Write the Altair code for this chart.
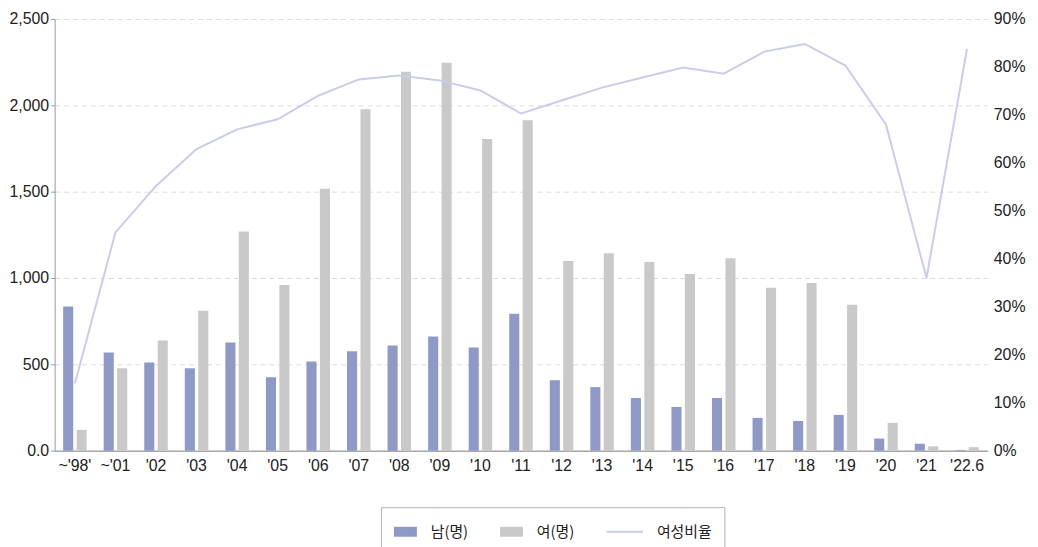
import altair as alt
import pandas as pd

years = ["~'98'", "~'01", "'02", "'03", "'04", "'05", "'06", "'07", "'08", "'09", "'10",
         "'11", "'12", "'13", "'14", "'15", "'16", "'17", "'18", "'19", "'20", "'21", "'22.6"]
male = [835, 569, 511, 477, 626, 425, 517, 575, 609, 661, 598, 793, 408, 368, 305, 253,
        305, 190, 172, 207, 70, 40, 4]
female = [120, 477, 638, 810, 1270, 960, 1517, 1977, 2195, 2247, 1805, 1914, 1098, 1144,
          1092, 1023, 1115, 943, 971, 845, 161, 25, 20]
ratio = [14.0, 45.5, 55.2, 62.9, 67.0, 69.1, 74.0, 77.4, 78.2, 77.2, 75.1, 70.3, 73.0,
         75.7, 77.8, 79.9, 78.6, 83.2, 84.8, 80.3, 68.0, 36.0, 83.8]

series_names = ["남(명)", "여(명)", "여성비율"]
series_colors = ["#8e99c7", "#c9c9c9", "#c9cdea"]

bars_df = pd.DataFrame(
    [{"year": y, "series": series_names[0], "value": m} for y, m in zip(years, male)]
    + [{"year": y, "series": series_names[1], "value": f} for y, f in zip(years, female)]
)
line_df = pd.DataFrame({"year": years, "series": series_names[2], "ratio": [r / 100 for r in ratio]})

AX_FONT = "Liberation Sans"
KR_FONT = "Noto Sans CJK KR"

color_scale = alt.Scale(domain=series_names, range=series_colors)

legend = alt.Legend(
    title=None,
    orient="none",
    direction="horizontal",
    legendX=329,
    legendY=492,
    padding=12,
    strokeColor="#b0b0b0",
    symbolType={"expr": "datum.value === '여성비율' ? 'M-2.2,0H1' : 'M-0.92,-0.35H0.92V0.35H-0.92Z'"},
    symbolSize=529,
    symbolStrokeWidth=2,
    symbolFillColor={"expr": "datum.value === '여성비율' ? 'transparent' : scale('color', datum.value)"},
    symbolStrokeColor={"expr": "scale('color', datum.value)"},
    symbolOpacity=1,
    labelFont=KR_FONT,
    labelFontSize=15,
    labelColor="#222222",
    labelOffset=13,
    columnPadding=28,
)

x_enc = alt.X(
    "year:N",
    sort=years,
    title=None,
    scale=alt.Scale(paddingInner=0.42, paddingOuter=0.21),
    axis=alt.Axis(
        labelAngle=0,
        ticks=False,
        labelPadding=7,
        labelFont=AX_FONT,
        labelFontSize=16,
        labelColor="#222222",
        domainColor="#a8a8a8",
        domainWidth=1.5,
        grid=False,
    ),
)

bars = alt.Chart(bars_df).mark_bar().encode(
    x=x_enc,
    xOffset=alt.XOffset("series:N", sort=series_names[:2],
                        scale=alt.Scale(paddingInner=0.25, paddingOuter=0)),
    y=alt.Y(
        "value:Q",
        title=None,
        scale=alt.Scale(domain=[0, 2500], nice=False),
        axis=alt.Axis(
            values=[0, 500, 1000, 1500, 2000, 2500],
            labelExpr="datum.value == 0 ? '0.0' : format(datum.value, ',')",
            labelFont=AX_FONT,
            labelFontSize=16,
            labelColor="#222222",
            tickSize=4,
            tickColor="#999999",
            domainColor="#999999",
            labelPadding=2,
            grid=True,
            gridDash=[5, 4],
            gridColor="#dddddd",
        ),
    ),
    color=alt.Color("series:N", scale=color_scale, legend=legend),
)

line = alt.Chart(line_df).mark_line(strokeWidth=2).encode(
    x=alt.X("year:N", sort=years),
    y=alt.Y(
        "ratio:Q",
        title=None,
        scale=alt.Scale(domain=[0, 0.9], nice=False),
        axis=alt.Axis(
            orient="right",
            values=[0, 0.1, 0.2, 0.3, 0.4, 0.5, 0.6, 0.7, 0.8, 0.9],
            format=".0%",
            labelFont=AX_FONT,
            labelFontSize=16,
            labelColor="#222222",
            ticks=False,
            domain=False,
            grid=False,
            labelPadding=6,
        ),
    ),
    color=alt.Color("series:N", scale=color_scale, legend=legend),
)

chart = (
    alt.layer(bars, line)
    .resolve_scale(y="independent")
    .properties(
        width=940,
        height=435,
        autosize=alt.AutoSizeParams(type="none"),
        padding={"left": 47, "top": 9, "right": 43, "bottom": 95},
    )
    .configure_view(stroke=None)
)

chart.save("out.html", embed_options={"renderer": "svg", "actions": False})
